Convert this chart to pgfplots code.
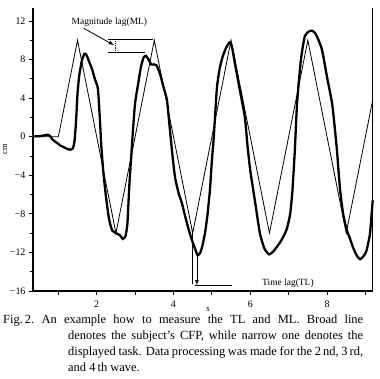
\documentclass[border=0pt]{standalone}
\usepackage{fontspec}
\setmainfont{Liberation Serif}
\usepackage{pgfplots}
\pgfplotsset{compat=1.18}
\begin{document}
\begin{tikzpicture}
\useasboundingbox (-33bp,-88bp) rectangle (347bp,291bp);
\begin{axis}[
 at={(0,0)}, anchor=south west, scale only axis,
 width=339.7bp, height=283bp,
 xmin=0.34, xmax=9.19, ymin=-16, ymax=13.35,
 axis x line*=bottom, axis y line*=left,
 axis line style={line width=1.2bp},
 xtick={1,2,3,4,5,6,7,8,9}, xticklabels={,2,,4,,6,,8,},
 ytick={-16,-12,-8,-4,0,4,8,12}, yticklabels={−16,−12,−8,−4,0,4,8,12},
 minor ytick={-14,-10,-6,-2,2,6,10},
 tick align=outside, major tick length=4bp, minor tick length=2.5bp,
 tick style={line width=0.9bp, black},
 ticklabel style={font=\fontsize{10}{11}\selectfont},
 xticklabel style={yshift=-2bp},
 xlabel={s}, xlabel style={at={(axis description cs:0.515,0)}, anchor=center, yshift=-19bp, font=\fontsize{8.5}{9}\selectfont},
 ylabel={cm}, ylabel style={at={(axis description cs:-0.082,0.5)}, anchor=center, font=\fontsize{8.5}{9}\selectfont},
 clip=false,
]
% task (narrow line)
\addplot[black, line width=0.8bp] coordinates {
(0.34,0) (1.0,0) (1.5,10) (2.5,-10) (3.5,10) (4.5,-10) (5.5,10) (6.5,-10) (7.5,10) (8.5,-10) (9.19,3.8)
};
% subject's CFP (broad line)
\addplot[black, line width=2.3bp, smooth, tension=0.35] coordinates {
(0.34,0.05) (0.5,0.05) (0.65,0.15) (0.72,0.2) (0.78,0.1) (0.85,-0.3) (0.95,-0.6)
(1.05,-0.9) (1.15,-1.1) (1.25,-1.3) (1.32,-1.35) (1.38,-1.2) (1.42,-0.5) (1.46,1.5)
(1.5,4.5) (1.55,6.5) (1.62,8.0) (1.68,8.6) (1.73,8.5) (1.8,7.8) (1.88,7.0) (1.95,6.0)
(2.03,5.0) (2.08,2.0) (2.12,-1) (2.18,-4) (2.25,-6.5) (2.32,-8.5) (2.4,-9.7) (2.5,-10.0)
(2.6,-10.2) (2.68,-10.6) (2.75,-10.3) (2.8,-9.0) (2.85,-5) (2.9,-2) (2.95,1) (3.0,3.5)
(3.08,5.5) (3.15,7.2) (3.22,8.2) (3.28,8.4) (3.35,8.0) (3.42,7.5) (3.5,7.5) (3.56,7.4)
(3.65,6.5) (3.75,5.0) (3.83,3.8) (3.9,1.0) (3.97,-1.8) (4.04,-4.2) (4.13,-5.8) (4.22,-6.9)
(4.3,-8.2) (4.38,-9.4) (4.47,-10.6) (4.56,-11.6) (4.63,-12.3) (4.7,-12.0) (4.76,-11.2)
(4.82,-10.0) (4.88,-8.3) (4.95,-5.5) (5.0,-2.5) (5.05,0) (5.13,5.0) (5.2,7.0) (5.28,8.3)
(5.38,9.3) (5.47,9.8) (5.53,9.2) (5.6,7.6) (5.73,4.8) (5.86,2.0) (5.93,-1.0) (6.0,-3.5)
(6.12,-6.6) (6.25,-10.0) (6.37,-11.6) (6.49,-12.2) (6.6,-11.9) (6.77,-11.0) (6.87,-10.3)
(6.95,-9.6) (7.04,-8.0) (7.1,-5.5) (7.16,-1.5) (7.22,3.5) (7.32,8.0) (7.42,10.4)
(7.52,10.9) (7.6,11.0) (7.68,10.8) (7.76,10.2) (7.87,9.0) (8.0,6.2) (8.13,3.5) (8.2,1.0)
(8.26,-1.5) (8.34,-5.5) (8.42,-8.0) (8.51,-9.6) (8.6,-10.6) (8.68,-11.5) (8.77,-12.3)
(8.86,-12.7) (8.95,-12.4) (9.03,-11.8) (9.12,-10.0) (9.19,-6.6)
};
% right frame line
\draw[line width=1.2bp] (rel axis cs:1,0) -- (rel axis cs:1,1);
% Magnitude lag annotation
\draw[line width=0.8bp] (axis cs:2.29,10.1) -- (axis cs:3.47,10.1);
\draw[line width=0.8bp] (axis cs:2.29,8.7) -- (axis cs:3.26,8.7);
\draw[line width=0.8bp, densely dotted] (axis cs:2.48,10.1) -- (axis cs:2.48,8.7);
\draw[line width=0.8bp, -latex] (axis cs:1.66,11.25) -- (axis cs:2.45,9.5);
\node[font=\fontsize{9.5}{10}\selectfont, anchor=center] at (axis cs:2.33,11.85) {Magnitude lag(ML)};
% Time lag annotation
\draw[line width=0.8bp] (axis cs:4.5,-10) -- (axis cs:4.5,-15.3);
\draw[line width=0.8bp, -latex] (axis cs:4.61,-12.3) -- (axis cs:4.61,-15.4);
\draw[line width=0.9bp] (axis cs:4.56,-15.45) -- (axis cs:5.53,-15.45);
\node[font=\fontsize{9.5}{10}\selectfont, anchor=west] at (axis cs:6.22,-15.15) {Time lag(TL)};
\end{axis}
\node[anchor=north west, text width=360bp, inner sep=0pt, align=justify,
 font=\fontsize{12.5}{15.8}\selectfont] at (-30bp,-24bp)
 {\hyphenpenalty=10000\hangindent=65bp\hangafter=1 Fig.\,2.\ An example how to measure the TL and ML. Broad line\linebreak
 denotes the subject's CFP, while narrow one denotes the\linebreak
 displayed task. Data processing was made for the 2\,nd, 3\,rd,\linebreak
 and 4\,th wave.\par};
\end{tikzpicture}
\end{document}
